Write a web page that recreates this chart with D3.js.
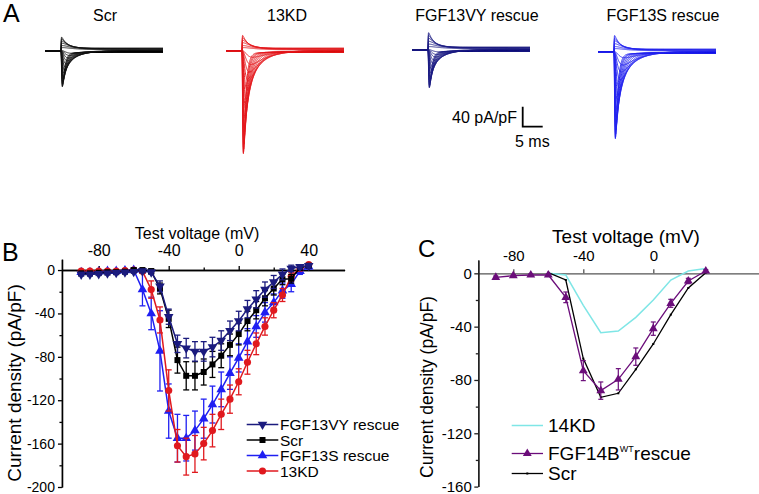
<!DOCTYPE html>
<html>
<head>
<meta charset="utf-8">
<script src="https://d3js.org/d3.v7.min.js"></script>
<style>
  body { margin: 0; background: #fff; }
  svg { display: block; }
</style>
</head>
<body>
<svg id="fig" width="759" height="494"></svg>
<script>
// ---------------- data ----------------
// panel A: representative Na+ current families (pA/pF, ms)
var traceTitles = ["Scr", "13KD", "FGF13VY rescue", "FGF13S rescue"];
var traceColors = ["#111111", "#e3171c", "#1b1b82", "#2323ee"];
// inward peak of each sweep, largest first
var scrPeaks = [-70, -68, -65, -61, -56, -50, -44, -38, -32, -26, -20, -15, -10, -6];
var kdPeaks  = [-204, -201, -195, -185, -170, -152, -134, -115, -96, -78, -60, -43, -28, -14];
var vyPeaks  = [-74, -72, -69, -64, -58, -52, -46, -39, -33, -27, -21, -15, -10, -5];
var sPeaks   = [-172, -169, -163, -155, -144, -130, -116, -101, -86, -71, -56, -41, -27, -13];
// outward hump of the most depolarised sweeps
var scrOut = [30, 25, 20, 15, 10, 6];
var kdOut  = [34, 28, 22, 16, 10, 6];
var vyOut  = [38, 31, 24, 17, 11, 6];
var sOut   = [36, 29, 23, 16, 10, 6];
// sweep kinetics shared by the families (ms)
var tauAct   = [0.12, 0.13, 0.15, 0.17, 0.20, 0.23, 0.27, 0.32, 0.38, 0.45, 0.55, 0.65, 0.80, 0.95];
var tauInact = [0.60, 0.70, 0.80, 0.95, 1.10, 1.30, 1.55, 1.85, 2.20, 2.60, 3.10, 3.70, 4.40, 5.20];
var tauOut   = [1.2, 1.6, 2.1, 2.7, 3.4, 4.2];
// steady current left during the step
var ssIn  = [-3, -3, -2.5, -2, -2, -1.5, -1, -1, -0.5, 0, 0.5, 1, 1, 1.5];
var ssOut = [6, 5, 4.5, 4, 3, 2];
var traceDuration = 29.5, stepOnset = 4;

// panel B: I-V curves, mean and SEM
var voltB = [-90, -85, -80, -75, -70, -65, -60, -55, -50, -45, -40, -35, -30, -25, -20, -15, -10, -5, 0, 5, 10, 15, 20, 25, 30, 35, 40];
var vyMean  = [-4, -4, -3.5, -3, -2.5, -2, -1.5, -1, -2, -15, -43, -68, -72, -75, -75, -71, -65, -56, -47, -36, -27, -18, -11, -4, 1.5, 3, 4];
var vyErr   = [1.5, 1.5, 1.5, 1.5, 1.5, 1.5, 1.5, 1.5, 2, 5, 7, 8, 9, 9, 9, 9, 9, 9, 9, 8, 8, 7, 6, 5, 3, 2, 2];
var scrMean = [-3, -3, -2.5, -2, -2, -1.5, 0, 0, -1, -17, -45, -83, -97.5, -97.5, -94, -87, -79, -69, -59, -47, -37, -26, -17, -8.5, -8, 2, 4];
var scrErr  = [1, 1, 1, 1, 1, 1, 1, 1, 2, 5, 8, 12, 13, 13, 12, 12, 11, 10, 10, 9, 8, 7, 6, 5, 4, 2, 1.5];
var sMean   = [-2, -2, -1.5, -1, -1, -0.5, 0, -18, -40, -74.5, -130, -155, -155, -148, -137, -124, -110, -95, -81, -66, -52, -39, -30, -19, -13, -1, 3];
var sErr    = [1, 1, 1, 1, 1, 1, 2, 15, 15, 37, 25, 22, 21, 18, 18, 17, 16, 15, 13, 12, 10, 9, 8, 7, 7, 3, 2];
var kdMean  = [-1, -1, -1, -1, -1, -0.5, 0, -1, -18, -46, -111, -162, -172, -169.5, -160, -148, -133, -119, -103, -85, -68, -52, -37, -23, -6, 1.5, 5];
var kdErr   = [0.5, 0.5, 0.5, 0.5, 0.5, 0.5, 1, 2, 8, 12, 19, 15, 17, 17, 15, 15, 14, 13, 12, 11, 10, 8, 7, 6, 4, 2, 1];

// panel C: FGF14
var voltC = [-90, -80, -70, -60, -50, -40, -30, -20, -10, 0, 10, 20, 30];
var wtMean = [-3, -1.75, -1.25, -1.25, -18, -73, -88, -79.5, -62.5, -41.5, -22.5, -5.75, 1.75];
var wtErr  = [1, 0.8, 0.8, 0.8, 4, 7.5, 6.5, 8, 6.5, 5, 3, 2, 1];
var voltC2 = [-60, -50, -40, -30, -20, -10, 0, 10, 20, 30];
var kd14Mean = [0, -1.3, -24, -44.5, -43.3, -33, -20, -5, 1.7, 3.7];
var scrCMean = [0.5, -5, -64, -93, -90, -72, -53, -31, -11, 0.5];

// ---------------- drawing ----------------
var FONT = "'Liberation Sans', Arial, Helvetica, sans-serif";
var svg = d3.select("#fig").attr("font-family", FONT);

function panelLabel(txt, x, y, size) {
    svg.append("text").attr("x", x).attr("y", y)
        .attr("font-size", size).attr("fill", "#000").text(txt);
}

function inwardSweep(t, peak, tm, th, ss) {
    if (t <= 0) return 0;
    var tp = tm * Math.log(1 + 3 * th / tm);
    var norm = Math.pow(1 - Math.exp(-tp / tm), 3) * Math.exp(-tp / th);
    return peak * Math.pow(1 - Math.exp(-t / tm), 3) * Math.exp(-t / th) / norm
        + ss * (1 - Math.exp(-t / 0.4));
}

function outwardSweep(t, peak, tau, ss) {
    if (t <= 0) return 0;
    return peak * (1 - Math.exp(-t / 0.04)) * Math.exp(-t / tau) + ss * (1 - Math.exp(-t / 0.4));
}

function drawTraces() {
    var tx = d3.scaleLinear().domain([0, traceDuration]).range([0, 118]);
    var ty = d3.scaleLinear().domain([0, -40]).range([0, 20]);
    var times = d3.range(0, traceDuration + 0.001, 0.05);
    var line = d3.line().x(function (d) { return tx(d[0]); }).y(function (d) { return ty(d[1]); });

    var families = [
        {peaks: scrPeaks, out: scrOut, x0: 45, y0: 51, tx: 105},
        {peaks: kdPeaks, out: kdOut, x0: 226, y0: 51, tx: 287},
        {peaks: vyPeaks, out: vyOut, x0: 412, y0: 50, tx: 477},
        {peaks: sPeaks, out: sOut, x0: 598, y0: 52, tx: 663}
    ];

    families.forEach(function (f, k) {
        var sweeps = [];
        f.out.forEach(function (a, i) {
            sweeps.push(times.map(function (t) { return [t, outwardSweep(t - stepOnset, a, tauOut[i], ssOut[i])]; }));
        });
        f.peaks.forEach(function (a, i) {
            sweeps.push(times.map(function (t) { return [t, inwardSweep(t - stepOnset, a, tauAct[i], tauInact[i], ssIn[i])]; }));
        });
        var g = svg.append("g").attr("transform", "translate(" + f.x0 + "," + f.y0 + ")");
        g.selectAll("path").data(sweeps).enter().append("path")
            .attr("d", line)
            .attr("fill", "none")
            .attr("stroke", traceColors[k])
            .attr("stroke-width", 0.9);

        svg.append("text").attr("x", f.tx).attr("y", 21)
            .attr("text-anchor", "middle").attr("font-size", 16)
            .text(traceTitles[k]);
    });

    // scale bar 40 pA/pF, 5 ms
    var sb = svg.append("g").attr("transform", "translate(522.7,126.7)");
    sb.append("path")
        .attr("d", "M0," + (-ty(-40)) + "V0H" + tx(5))
        .attr("fill", "none").attr("stroke", "#000").attr("stroke-width", 1.8);
    svg.append("text").attr("x", 517).attr("y", 122.5).attr("text-anchor", "end")
        .attr("font-size", 16).text("40 pA/pF");
    svg.append("text").attr("x", 515).attr("y", 146.5)
        .attr("font-size", 16).text("5 ms");
}

function styleAxis(g, size, color) {
    g.attr("font-family", FONT).attr("font-size", size);
    g.selectAll("line").attr("stroke", color).attr("stroke-width", 1.3);
    g.select(".domain").attr("stroke", color).attr("stroke-width", 1.4);
    g.selectAll("text").attr("fill", "#000");
}

function drawPanelB() {
    var x = d3.scaleLinear().domain([-101, 60.5]).range([61.95, 344.6]);
    var y = d3.scaleLinear().domain([10, -200]).range([259.2, 487]);
    var fmt = function (d) { return String(d); };

    svg.append("g").attr("transform", "translate(0," + y(0) + ")")
        .call(d3.axisTop(x).tickValues([-60, -20, 20]).tickSize(2.5).tickSizeOuter(0).tickFormat(""))
        .call(styleAxis, 16, "#000");
    svg.append("g").attr("transform", "translate(0," + y(0) + ")")
        .call(d3.axisTop(x).tickValues([-80, -40, 0, 40]).tickSize(4).tickSizeOuter(0).tickPadding(10).tickFormat(fmt))
        .call(styleAxis, 16, "#000");
    svg.append("g").attr("transform", "translate(" + x(-101) + ",0)")
        .call(d3.axisLeft(y).tickValues([-20, -60, -100, -140, -180]).tickSize(2.5).tickSizeOuter(0).tickFormat(""))
        .call(styleAxis, 14, "#000");
    svg.append("g").attr("transform", "translate(" + x(-101) + ",0)")
        .call(d3.axisLeft(y).tickValues([0, -40, -80, -120, -160, -200]).tickSize(4).tickSizeOuter(0).tickPadding(3).tickFormat(fmt))
        .call(styleAxis, 14, "#000");

    svg.append("text").attr("x", 197).attr("y", 238.5).attr("text-anchor", "middle")
        .attr("font-size", 16).text("Test voltage (mV)");
    svg.append("text").attr("transform", "translate(20.5,383) rotate(-90)")
        .attr("text-anchor", "middle").attr("font-size", 19).text("Current density (pA/pF)");

    var series = [
        {name: "FGF13VY rescue", mean: vyMean, err: vyErr, color: "#1b1b7e", sym: d3.symbolTriangle, size: 40, rot: 180},
        {name: "Scr", mean: scrMean, err: scrErr, color: "#000000", sym: d3.symbolSquare, size: 36, rot: 0},
        {name: "FGF13S rescue", mean: sMean, err: sErr, color: "#1f1ff2", sym: d3.symbolTriangle, size: 40, rot: 0},
        {name: "13KD", mean: kdMean, err: kdErr, color: "#e0191e", sym: d3.symbolCircle, size: 40, rot: 0}
    ];
    var drawOrder = [2, 3, 1, 0];
    var line = d3.line().x(function (d) { return x(d.v); }).y(function (d) { return y(d.m); });

    drawOrder.forEach(function (k) {
        var s = series[k];
        var pts = voltB.map(function (v, i) { return {v: v, m: s.mean[i], e: s.err[i]}; });
        var g = svg.append("g");
        var eb = g.selectAll(".eb").data(pts).enter().append("g")
            .attr("stroke", s.color).attr("stroke-width", 1.3);
        eb.append("line")
            .attr("x1", function (d) { return x(d.v); }).attr("x2", function (d) { return x(d.v); })
            .attr("y1", function (d) { return y(d.m - d.e); }).attr("y2", function (d) { return y(d.m + d.e); });
        eb.append("line")
            .attr("x1", function (d) { return x(d.v) - 3; }).attr("x2", function (d) { return x(d.v) + 3; })
            .attr("y1", function (d) { return y(d.m - d.e); }).attr("y2", function (d) { return y(d.m - d.e); });
        eb.append("line")
            .attr("x1", function (d) { return x(d.v) - 3; }).attr("x2", function (d) { return x(d.v) + 3; })
            .attr("y1", function (d) { return y(d.m + d.e); }).attr("y2", function (d) { return y(d.m + d.e); });
        g.append("path").datum(pts).attr("d", line)
            .attr("fill", "none").attr("stroke", s.color).attr("stroke-width", 1.5);
        g.selectAll(".mk").data(pts).enter().append("path")
            .attr("d", d3.symbol().type(s.sym).size(s.size))
            .attr("transform", function (d) { return "translate(" + x(d.v) + "," + y(d.m) + ") rotate(" + s.rot + ")"; })
            .attr("fill", s.color);
    });

    // legend
    var rows = [424.5, 440, 455.5, 471];
    series.forEach(function (s, i) {
        var lg = svg.append("g").attr("transform", "translate(0," + rows[i] + ")");
        lg.append("line").attr("x1", 246.7).attr("x2", 278.3).attr("y1", 0).attr("y2", 0)
            .attr("stroke", s.color).attr("stroke-width", 1.5);
        lg.append("path").attr("d", d3.symbol().type(s.sym).size(s.size))
            .attr("transform", "translate(262.5,0) rotate(" + s.rot + ")").attr("fill", s.color);
        lg.append("text").attr("x", 280).attr("y", 5.5).attr("font-size", 15.5).text(s.name);
    });
}

function drawPanelC() {
    var x = d3.scaleLinear().domain([-100, 60.4]).range([478.3, 759]);
    var y = d3.scaleLinear().domain([10, -160]).range([260, 486.6]);
    var fmt = function (d) { return String(d); };

    svg.append("g").attr("transform", "translate(0," + y(0) + ")")
        .call(d3.axisTop(x).tickValues([-80, -40, 0]).tickSize(4).tickSizeOuter(0).tickPadding(8.5).tickFormat(fmt))
        .call(styleAxis, 15, "#555");
    svg.append("g").attr("transform", "translate(" + x(-100) + ",0)")
        .call(d3.axisLeft(y).tickValues([-20, -60, -100, -140]).tickSize(2.5).tickSizeOuter(0).tickFormat(""))
        .call(styleAxis, 15, "#222");
    svg.append("g").attr("transform", "translate(" + x(-100) + ",0)")
        .call(d3.axisLeft(y).tickValues([0, -40, -80, -120, -160]).tickSize(4).tickSizeOuter(0).tickPadding(2.5).tickFormat(fmt))
        .call(styleAxis, 15, "#222");

    svg.append("text").attr("x", 626).attr("y", 243).attr("text-anchor", "middle")
        .attr("font-size", 19).text("Test voltage (mV)");
    svg.append("text").attr("transform", "translate(433,387) rotate(-90)")
        .attr("text-anchor", "middle").attr("font-size", 17.5).text("Current density (pA/pF)");

    var line = d3.line().x(function (d) { return x(d[0]); }).y(function (d) { return y(d[1]); });
    var kd = voltC2.map(function (v, i) { return [v, kd14Mean[i]]; });
    var scr = voltC2.map(function (v, i) { return [v, scrCMean[i]]; });
    var wt = voltC.map(function (v, i) { return {v: v, m: wtMean[i], e: wtErr[i]}; });

    svg.append("path").datum(kd).attr("d", line)
        .attr("fill", "none").attr("stroke", "#7fe6e6").attr("stroke-width", 1.5);
    svg.append("path").datum(scr).attr("d", line)
        .attr("fill", "none").attr("stroke", "#000").attr("stroke-width", 1.3);
    svg.selectAll(".scrc").data(scr).enter().append("rect")
        .attr("x", function (d) { return x(d[0]) - 1; }).attr("y", function (d) { return y(d[1]) - 1; })
        .attr("width", 2).attr("height", 2).attr("fill", "#000");

    var purple = "#6b0d7a";
    var eb = svg.selectAll(".ebc").data(wt).enter().append("g")
        .attr("stroke", purple).attr("stroke-width", 1.2);
    eb.append("line")
        .attr("x1", function (d) { return x(d.v); }).attr("x2", function (d) { return x(d.v); })
        .attr("y1", function (d) { return y(d.m - d.e); }).attr("y2", function (d) { return y(d.m + d.e); });
    [-1, 1].forEach(function (sg) {
        eb.append("line")
            .attr("x1", function (d) { return x(d.v) - 2.5; }).attr("x2", function (d) { return x(d.v) + 2.5; })
            .attr("y1", function (d) { return y(d.m + sg * d.e); }).attr("y2", function (d) { return y(d.m + sg * d.e); });
    });
    svg.append("path").datum(wt)
        .attr("d", d3.line().x(function (d) { return x(d.v); }).y(function (d) { return y(d.m); }))
        .attr("fill", "none").attr("stroke", purple).attr("stroke-width", 1.3);
    svg.selectAll(".wtm").data(wt).enter().append("path")
        .attr("d", d3.symbol().type(d3.symbolTriangle).size(34))
        .attr("transform", function (d) { return "translate(" + x(d.v) + "," + y(d.m) + ")"; })
        .attr("fill", purple);

    // legend
    svg.append("line").attr("x1", 511.7).attr("x2", 543).attr("y1", 425.5).attr("y2", 425.5)
        .attr("stroke", "#7fe6e6").attr("stroke-width", 1.5);
    svg.append("text").attr("x", 548).attr("y", 432).attr("font-size", 19).text("14KD");

    svg.append("line").attr("x1", 511.7).attr("x2", 543).attr("y1", 453.5).attr("y2", 453.5)
        .attr("stroke", purple).attr("stroke-width", 1.3);
    svg.append("path").attr("d", d3.symbol().type(d3.symbolTriangle).size(34))
        .attr("transform", "translate(527.3,453.5)").attr("fill", purple);
    var t2 = svg.append("text").attr("x", 548).attr("y", 460).attr("font-size", 19);
    t2.append("tspan").text("FGF14B");
    t2.append("tspan").attr("font-size", 9).attr("dy", -8).text("WT");
    t2.append("tspan").attr("dy", 8).text("rescue");

    svg.append("line").attr("x1", 511.7).attr("x2", 543).attr("y1", 473.5).attr("y2", 473.5)
        .attr("stroke", "#000").attr("stroke-width", 1.3);
    svg.append("rect").attr("x", 526.3).attr("y", 472.5).attr("width", 2).attr("height", 2).attr("fill", "#000");
    svg.append("text").attr("x", 548).attr("y", 480).attr("font-size", 19).text("Scr");
}

drawTraces();
drawPanelB();
drawPanelC();
panelLabel("A", 3, 22, 25);
panelLabel("B", 2, 261, 25);
panelLabel("C", 418, 257, 24);
</script>
</body>
</html>
